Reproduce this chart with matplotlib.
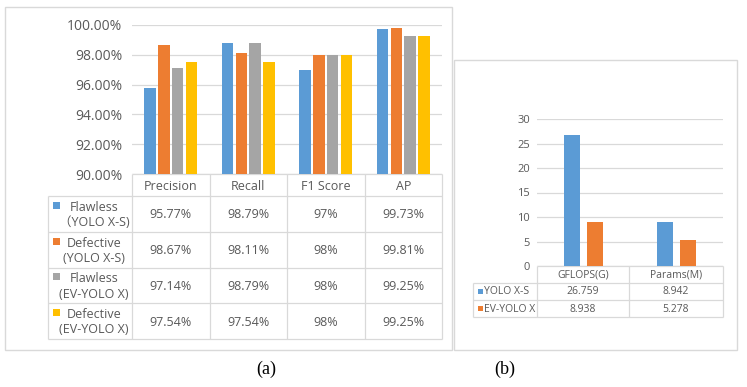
import matplotlib
matplotlib.use("Agg")
import matplotlib.pyplot as plt
from matplotlib.patches import Rectangle

# --- data -------------------------------------------------------------
metrics = ["Precision", "Recall", "F1 Score", "AP"]
series_a = ["Flawless\n（YOLO X-S)", "Defective\n(YOLO X-S)",
            "Flawless\n(EV-YOLO X)", "Defective\n(EV-YOLO X)"]
flawless_yolo = [95.77, 98.79, 97.0, 99.73]
defective_yolo = [98.67, 98.11, 98.0, 99.81]
flawless_ev = [97.14, 98.79, 98.0, 99.25]
defective_ev = [97.54, 97.54, 98.0, 99.25]
vals_a = [flawless_yolo, defective_yolo, flawless_ev, defective_ev]
yticks_a = [90, 92, 94, 96, 98, 100]

cost_cats = ["GFLOPS(G)", "Params(M)"]
series_b = ["YOLO X-S", "EV-YOLO X"]
yolo_xs = [26.759, 8.942]
ev_yolo = [8.938, 5.278]
vals_b = [yolo_xs, ev_yolo]
yticks_b = [0, 5, 10, 15, 20, 25, 30]

COLORS = ["#5B9BD5", "#ED7D31", "#A5A5A5", "#FFC000"]
TXT = "#595959"
LINE = "#D9D9D9"
FONT = ["Open Sans", "Noto Sans CJK SC", "DejaVu Sans"]
plt.rcParams["font.family"] = FONT

W, H = 747, 387
fig = plt.figure(figsize=(W / 100, H / 100), dpi=100)

# overlay in pixel coordinates for boxes / tables
ov = fig.add_axes([0, 0, 1, 1], zorder=0)
ov.set_xlim(0, W)
ov.set_ylim(H, 0)
ov.axis("off")


def px_axes(x0, y0, x1, y1):
    ax = fig.add_axes([x0 / W, 1 - y1 / H, (x1 - x0) / W, (y1 - y0) / H], zorder=1)
    ax.patch.set_visible(False)
    for s in ax.spines.values():
        s.set_visible(False)
    return ax


def hline(y, x0, x1):
    ov.plot([x0, x1], [y, y], color=LINE, lw=0.9, solid_capstyle="butt")


def vline(x, y0, y1):
    ov.plot([x, x], [y0, y1], color=LINE, lw=0.9, solid_capstyle="butt")


# panel borders
ov.add_patch(Rectangle((5, 7), 447, 343, fill=False, ec=LINE, lw=1.0))
ov.add_patch(Rectangle((454, 60), 283, 290, fill=False, ec=LINE, lw=1.0))

# ---- (a) bars ----
ax = px_axes(132, 25, 442, 174)
n = len(vals_a)
for i, v in enumerate(vals_a):
    ax.bar([k + (i - (n - 1) / 2) * 0.18 for k in range(len(metrics))], v,
           width=0.148, color=COLORS[i], zorder=2)
ax.set_xlim(-0.5, len(metrics) - 0.5)
ax.set_ylim(yticks_a[0], yticks_a[-1])
ax.set_yticks(yticks_a)
ax.set_yticklabels([f"{t:.2f}%" for t in yticks_a], fontsize=10, color=TXT)
ax.set_xticks([])
ax.tick_params(axis="y", length=0, pad=7)
ax.yaxis.grid(True, color=LINE, lw=0.9, zorder=0)
ax.set_axisbelow(True)

# ---- (a) table ----
col_x = [132, 209.5, 287, 364.5, 442]
row_y = [174, 196, 232, 268, 303, 339]
lab_x0 = 48
hline(row_y[0], col_x[0], col_x[-1])
for y in row_y[1:]:
    hline(y, lab_x0, col_x[-1])
vline(lab_x0, row_y[1], row_y[-1])
for x in col_x:
    vline(x, row_y[0], row_y[-1])
for j, m in enumerate(metrics):
    ov.text((col_x[j] + col_x[j + 1]) / 2, (row_y[0] + row_y[1]) / 2 + 1, m,
            ha="center", va="center", fontsize=9, color=TXT)
for i, name in enumerate(series_a):
    yc = (row_y[i + 1] + row_y[i + 2]) / 2
    ov.add_patch(Rectangle((53, yc - 12.5), 7, 7, color=COLORS[i], lw=0))
    ov.text(94, yc + 1, name, ha="center", va="center", fontsize=9,
            color=TXT, linespacing=1.25, multialignment="center")
    for j, v in enumerate(vals_a[i]):
        ov.text((col_x[j] + col_x[j + 1]) / 2, yc + 1, f"{v:g}%",
                ha="center", va="center", fontsize=9, color=TXT)

# ---- (b) bars ----
bx = px_axes(537, 119, 723, 266)
n = len(vals_b)
for i, v in enumerate(vals_b):
    bx.bar([k + (i - (n - 1) / 2) * 0.25 for k in range(len(cost_cats))], v,
           width=0.17, color=COLORS[i], zorder=2)
bx.set_xlim(-0.5, len(cost_cats) - 0.5)
bx.set_ylim(yticks_b[0], yticks_b[-1])
bx.set_yticks(yticks_b)
bx.set_yticklabels([str(t) for t in yticks_b], fontsize=8, color=TXT)
bx.set_xticks([])
bx.tick_params(axis="y", length=0, pad=5)
bx.yaxis.grid(True, color=LINE, lw=0.9, zorder=0)
bx.set_axisbelow(True)

# ---- (b) table ----
bcol_x = [537, 629, 723]
brow_y = [266, 283, 300, 317]
blab_x0 = 473
hline(brow_y[0], bcol_x[0], bcol_x[-1])
for y in brow_y[1:]:
    hline(y, blab_x0, bcol_x[-1])
vline(blab_x0, brow_y[1], brow_y[-1])
for x in bcol_x:
    vline(x, brow_y[0], brow_y[-1])
for j, c in enumerate(cost_cats):
    ov.text((bcol_x[j] + bcol_x[j + 1]) / 2, (brow_y[0] + brow_y[1]) / 2 + 0.5, c,
            ha="center", va="center", fontsize=7.5, color=TXT)
for i, name in enumerate(series_b):
    yc = (brow_y[i + 1] + brow_y[i + 2]) / 2
    ov.add_patch(Rectangle((478, yc - 2.5), 4.5, 4.5, color=COLORS[i], lw=0))
    ov.text(483.5, yc + 0.5, name, ha="left", va="center", fontsize=7.5, color=TXT)
    for j, v in enumerate(vals_b[i]):
        ov.text((bcol_x[j] + bcol_x[j + 1]) / 2, yc + 0.5, f"{v:.3f}",
                ha="center", va="center", fontsize=7.5, color=TXT)

# captions
ov.text(266, 369, "(a)", ha="center", va="center", fontsize=13,
        family="Liberation Serif", color="black")
ov.text(505, 369, "(b)", ha="center", va="center", fontsize=13,
        family="Liberation Serif", color="black")

fig.savefig("out.png", dpi=100)
